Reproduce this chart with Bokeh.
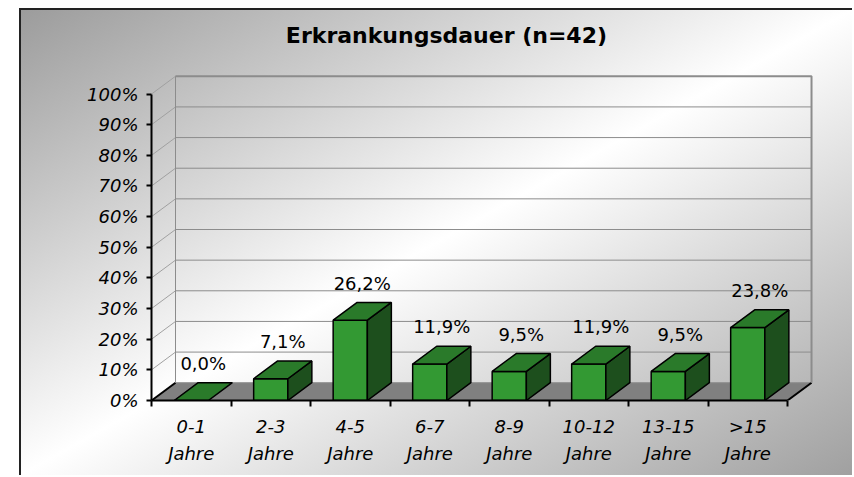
from bokeh.plotting import figure
from bokeh.models import FixedTicker
from bokeh.core.properties import value
from bokeh.embed import file_html
from bokeh.resources import INLINE

# ---- data ----
title_text = "Erkrankungsdauer (n=42)"
category_ranges = ["0-1", "2-3", "4-5", "6-7", "8-9", "10-12", "13-15", ">15"]
category_unit = "Jahre"
percentages = [0.0, 7.1, 26.2, 11.9, 9.5, 11.9, 9.5, 23.8]
value_labels = ["0,0%", "7,1%", "26,2%", "11,9%", "9,5%", "11,9%", "9,5%", "23,8%"]
y_ticks = [0, 10, 20, 30, 40, 50, 60, 70, 80, 90, 100]
y_tick_labels = ["0%", "10%", "20%", "30%", "40%", "50%", "60%", "70%", "80%", "90%", "100%"]

# ---- 3D look (depth offsets in data units) ----
DX = 0.302
DY = 5.8
BW = 0.43
N = len(category_ranges)
YMAX = y_ticks[-1]
Y_END = 124.0          # frame extends above the chart so the title can sit inside it
TITLE_X = 3.71
TITLE_Y = 119.1
LABEL_GAP = 6.3

FRONT = "#339933"
TOP = "#2a7a2a"
SIDE = "#1d4f1d"
WALL = "#8c8c8c"

p = figure(width=833, height=467,
           x_range=(0, N + DX + 0.05), y_range=(0, Y_END),
           output_backend="svg", toolbar_location=None,
           min_border_left=130, min_border_right=39,
           min_border_top=10, min_border_bottom=77,
           background_fill_alpha=0, border_fill_alpha=0,
           outline_line_color=None)
p.grid.visible = False
p.styles = {
    "margin-left": "19px",
    "margin-top": "8px",
    "border-top": "2px solid #222222",
    "border-left": "2px solid #222222",
    "background": "linear-gradient(to bottom right, #9c9c9c 0%, #ffffff 50%, #a0a0a0 100%)",
}

# floor
p.patch([0, N, N + DX, DX], [0, 0, DY, DY], fill_color="#808080", line_color=None)
p.line([DX, N + DX], [DY, DY], line_color=WALL, line_width=1)
p.line([0, DX], [0, DY], line_color="black", line_width=2)
p.line([N, N + DX], [0, DY], line_color="black", line_width=2)

# left wall diagonals and back wall gridlines
for t in y_ticks[1:]:
    p.line([0, DX], [t, t + DY], line_color="#a0a0a0", line_width=1)
for t in y_ticks[1:-1]:
    p.line([DX, N + DX], [t + DY, t + DY], line_color=WALL, line_width=1)
p.line([DX, DX], [DY, YMAX + DY], line_color=WALL, line_width=1)
p.line([DX, N + DX, N + DX], [YMAX + DY, YMAX + DY, DY], line_color=WALL, line_width=2)

# bars
x0 = [i + 0.5 - BW / 2 for i in range(N)]
x1 = [i + 0.5 + BW / 2 for i in range(N)]
p.quad(left=x0, right=x1, bottom=[0] * N, top=percentages,
       fill_color=FRONT, line_color="black", line_width=1.5)
side_xs, side_ys, top_xs, top_ys = [], [], [], []
for a, b, v in zip(x0, x1, percentages):
    if v > 0:
        side_xs.append([b, b + DX, b + DX, b])
        side_ys.append([0, DY, v + DY, v])
    top_xs.append([a, b, b + DX, a + DX])
    top_ys.append([v, v, v + DY, v + DY])
p.patches(side_xs, side_ys, fill_color=SIDE, line_color="black", line_width=1.5)
p.patches(top_xs, top_ys, fill_color=TOP, line_color="black", line_width=1.5)

# value labels
lab_x = [i + 0.5 + DX / 2 for i in range(N)]
lab_y = [v + DY + LABEL_GAP for v in percentages]
p.text(x=lab_x, y=lab_y, text=value_labels, text_align="center",
       text_baseline="alphabetic", text_font=value("DejaVu Sans"),
       text_font_size="18px", text_color="black")

# title
p.text(x=[TITLE_X], y=[TITLE_Y], text=[title_text], text_align="center",
       text_baseline="alphabetic", text_font=value("DejaVu Sans"),
       text_font_style="bold", text_font_size="22px", text_color="black")

# y axis
ya = p.yaxis[0]
ya.ticker = FixedTicker(ticks=y_ticks)
ya.major_label_overrides = {t: s for t, s in zip(y_ticks, y_tick_labels)}
ya.bounds = (0, YMAX)
ya.axis_line_color = "black"
ya.axis_line_width = 2
ya.major_tick_line_color = "black"
ya.major_tick_line_width = 2
ya.major_tick_out = 5
ya.major_tick_in = 0
ya.minor_tick_line_color = None
ya.major_label_standoff = 8
ya.major_label_text_font = "DejaVu Sans"
ya.major_label_text_font_style = "italic"
ya.major_label_text_font_size = "18px"
ya.major_label_text_color = "black"

# x axis
xa = p.xaxis[0]
centers = [i + 0.5 for i in range(N)]
xa.ticker = FixedTicker(ticks=centers, minor_ticks=list(range(N + 1)))
xa.major_label_overrides = {c: f"{r}\n{category_unit}" for c, r in zip(centers, category_ranges)}
xa.bounds = (0, N)
xa.axis_line_color = "black"
xa.axis_line_width = 2
xa.major_tick_line_color = None
xa.major_tick_out = 0
xa.major_tick_in = 0
xa.minor_tick_line_color = "black"
xa.minor_tick_line_width = 2
xa.minor_tick_out = 6
xa.minor_tick_in = 0
xa.major_label_standoff = 9
xa.major_label_text_font = "DejaVu Sans"
xa.major_label_text_font_style = "italic"
xa.major_label_text_font_size = "18px"
xa.major_label_text_line_height = 1.33
xa.major_label_text_color = "black"

open("out.html", "w").write(file_html(p, INLINE))
